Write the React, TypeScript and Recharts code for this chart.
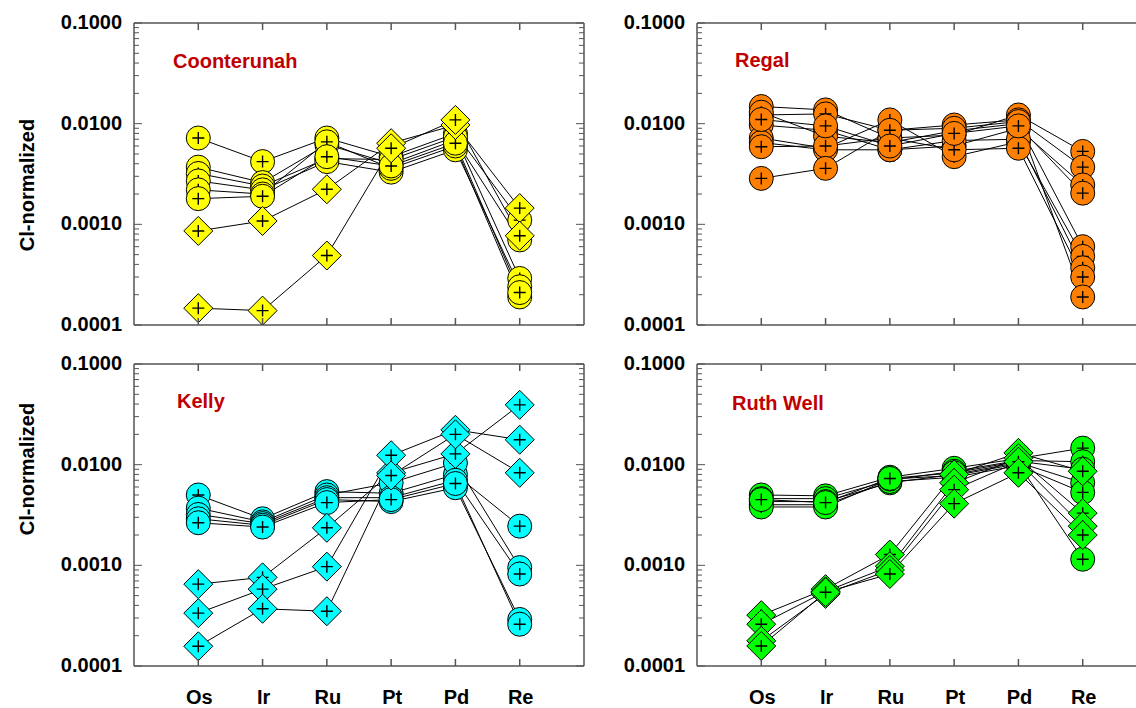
import React from "react";
import { LineChart, Line, XAxis, YAxis } from "recharts";

const categories = ["Os", "Ir", "Ru", "Pt", "Pd", "Re"];
const categoryPositions = [1, 2, 3, 4, 5, 6];
const majorTicks = [0.0001, 0.001, 0.01, 0.1];
const minorTicks = [
  0.0002, 0.0003, 0.0004, 0.0005, 0.0006, 0.0007, 0.0008, 0.0009,
  0.002, 0.003, 0.004, 0.005, 0.006, 0.007, 0.008, 0.009,
  0.02, 0.03, 0.04, 0.05, 0.06, 0.07, 0.08, 0.09,
];

// Coonterunah
const coonterunahCircles = [
  [0.0072, 0.0042, 0.0072, 0.0047, 0.008, 0.0011],
  [0.0037, 0.0026, 0.0062, 0.004, 0.0069, 0.0007],
  [0.0032, 0.0024, 0.0045, 0.0044, 0.0074, 0.00029],
  [0.0027, 0.0022, 0.0042, 0.0033, 0.0055, 0.00024],
  [0.0022, 0.002, 0.0066, 0.0036, 0.006, 0.00019],
  [0.0018, 0.0019, 0.0047, 0.0038, 0.0064, 0.00021],
];
const coonterunahDiamonds = [
  [0.00086, 0.00108, 0.00223, 0.0064, 0.0097, 0.00145],
  [0.000147, 0.000139, 0.00049, 0.0057, 0.0109, 0.00077],
];

// Regal
const regalCircles = [
  [0.0148, 0.0137, 0.0072, 0.0077, 0.0122, 0.0053],
  [0.0122, 0.0125, 0.0086, 0.0097, 0.0109, 0.0037],
  [0.0097, 0.0086, 0.0055, 0.006, 0.009, 0.00246],
  [0.013, 0.0075, 0.0065, 0.0085, 0.01, 0.0006],
  [0.0072, 0.0057, 0.0109, 0.0047, 0.0066, 0.00048],
  [0.0065, 0.0055, 0.0055, 0.0068, 0.007, 0.00037],
  [0.0059, 0.006, 0.0072, 0.0055, 0.0057, 0.0003],
  [0.00286, 0.0036, 0.0086, 0.009, 0.0105, 0.00019],
  [0.011, 0.0095, 0.006, 0.008, 0.0095, 0.00204],
];
const regalDiamonds: number[][] = [];

// Kelly
const kellyCircles = [
  [0.005, 0.0029, 0.0054, 0.0052, 0.008, 0.00245],
  [0.0037, 0.0027, 0.005, 0.0066, 0.0104, 0.00095],
  [0.0032, 0.0026, 0.0047, 0.0047, 0.007, 0.00082],
  [0.0029, 0.0025, 0.0045, 0.0043, 0.0059, 0.00029],
  [0.00265, 0.0024, 0.0042, 0.0045, 0.0065, 0.00026],
];
const kellyDiamonds = [
  [0.00065, 0.00076, 0.00236, 0.0083, 0.0128, 0.0393],
  [0.000335, 0.00058, 0.00097, 0.0124, 0.0222, 0.0177],
  [0.000157, 0.00037, 0.00035, 0.0078, 0.02, 0.0083],
];

// Ruth Well
const ruthCircles = [
  [0.005, 0.0049, 0.0075, 0.0092, 0.0115, 0.0146],
  [0.0046, 0.0046, 0.007, 0.0086, 0.011, 0.0107],
  [0.0043, 0.0043, 0.0066, 0.008, 0.0105, 0.0066],
  [0.004, 0.004, 0.0068, 0.0075, 0.0098, 0.0053],
  [0.0038, 0.0038, 0.0072, 0.0078, 0.0102, 0.00115],
  [0.0045, 0.0042, 0.0073, 0.0083, 0.0108, 0.009],
];
const ruthDiamonds = [
  [0.00032, 0.00058, 0.00128, 0.008, 0.0131, 0.0086],
  [0.00026, 0.00055, 0.00098, 0.0066, 0.0116, 0.0033],
  [0.000178, 0.00052, 0.0009, 0.00565, 0.0107, 0.00245],
  [0.000158, 0.00054, 0.00082, 0.0041, 0.0083, 0.002],
];

const frameColor = "#555";
const titleColor = "#c00000";
const font = "'Liberation Sans', Arial, Helvetica, sans-serif";
const labelStyle = { fontFamily: font, fontWeight: 700, fontSize: 20, fill: "#000" };
const allTicks = [...majorTicks, ...minorTicks].sort((a, b) => a - b);

const Plus = ({ cx, cy }: { cx: number; cy: number }) => (
  <path d={`M${cx - 6},${cy}H${cx + 6}M${cx},${cy - 6}V${cy + 6}`} stroke="#000" strokeWidth={1.4} />
);

const circleDot = (fill: string) => (p: any) => {
  if (p.cx == null || p.cy == null) return <g key={p.index} />;
  return (
    <g key={p.index}>
      <circle cx={p.cx} cy={p.cy} r={12} fill={fill} stroke="#000" strokeWidth={1} />
      <Plus cx={p.cx} cy={p.cy} />
    </g>
  );
};

const diamondDot = (fill: string) => (p: any) => {
  if (p.cx == null || p.cy == null) return <g key={p.index} />;
  const s = 14.5;
  return (
    <g key={p.index}>
      <path
        d={`M${p.cx},${p.cy - s}L${p.cx + s},${p.cy}L${p.cx},${p.cy + s}L${p.cx - s},${p.cy}Z`}
        fill={fill}
        stroke="#000"
        strokeWidth={1}
      />
      <Plus cx={p.cx} cy={p.cy} />
    </g>
  );
};

const isMajor = (v: number) => majorTicks.includes(v);

const LeftTick = (p: any) => {
  const v = p.payload.value;
  return (
    <g>
      <line x1={p.x} x2={p.x + (isMajor(v) ? 8 : 5)} y1={p.y} y2={p.y} stroke={frameColor} strokeWidth={1} />
      {isMajor(v) && (
        <text x={p.x - 12} y={p.y + 6} textAnchor="end" style={labelStyle}>
          {v.toFixed(4)}
        </text>
      )}
    </g>
  );
};

const RightTick = (p: any) => {
  const v = p.payload.value;
  return <line x1={p.x} x2={p.x - (isMajor(v) ? 8 : 5)} y1={p.y} y2={p.y} stroke={frameColor} strokeWidth={1} />;
};

const TopTick = (p: any) => <line x1={p.x} x2={p.x} y1={p.y} y2={p.y + 7} stroke={frameColor} strokeWidth={1.5} />;

const BottomTick = (p: any) => {
  const idx = categoryPositions.indexOf(p.payload.value);
  return (
    <g>
      <line x1={p.x} x2={p.x} y1={p.y} y2={p.y - 7} stroke={frameColor} strokeWidth={1.5} />
      {p.showLabel && (
        <text x={p.x + 1} y={p.y + 38} textAnchor="middle" style={labelStyle}>
          {categories[idx]}
        </text>
      )}
    </g>
  );
};

type PanelProps = {
  circles: number[][];
  diamonds: number[][];
  fill: string;
  left: number;
  top: number;
  height: number;
  plotTop: number;
  showLabels: boolean;
};

const CHART_W = 600;
const PLOT_H = 302;

const Panel = ({ circles, diamonds, fill, left, top, height, plotTop, showLabels }: PanelProps) => {
  const rows = categories.map((cat, i) => {
    const row: Record<string, number | string> = { x: categoryPositions[i], cat };
    circles.forEach((s, k) => (row[`c${k}`] = s[i]));
    diamonds.forEach((s, k) => (row[`d${k}`] = s[i]));
    return row;
  });
  const keys = [...circles.map((_, k) => `c${k}`), ...diamonds.map((_, k) => `d${k}`)];
  const axisLine = { stroke: frameColor, strokeWidth: 1.5 };
  return (
    <div style={{ position: "absolute", left, top, width: CHART_W, height }}>
      <LineChart
        width={CHART_W}
        height={height}
        data={rows}
        margin={{ top: plotTop - 1, left: 133, right: 15, bottom: height - plotTop - PLOT_H - 1 }}
      >
        <XAxis
          xAxisId="b"
          type="number"
          dataKey="x"
          domain={[0, 7]}
          ticks={categoryPositions}
          interval={0}
          height={1}
          tickSize={0}
          tickMargin={0}
          tickLine={false}
          axisLine={axisLine}
          tick={<BottomTick showLabel={showLabels} />}
          allowDataOverflow
        />
        <XAxis
          xAxisId="t"
          orientation="top"
          type="number"
          dataKey="x"
          domain={[0, 7]}
          ticks={categoryPositions}
          interval={0}
          height={1}
          tickSize={0}
          tickMargin={0}
          tickLine={false}
          axisLine={axisLine}
          tick={<TopTick />}
          allowDataOverflow
        />
        <YAxis
          yAxisId="l"
          type="number"
          scale="log"
          domain={[0.0001, 0.1]}
          ticks={allTicks}
          interval={0}
          width={1}
          tickSize={0}
          tickMargin={0}
          tickLine={false}
          axisLine={axisLine}
          tick={<LeftTick />}
          allowDataOverflow
        />
        <YAxis
          yAxisId="r"
          orientation="right"
          type="number"
          scale="log"
          domain={[0.0001, 0.1]}
          ticks={allTicks}
          interval={0}
          width={1}
          tickSize={0}
          tickMargin={0}
          tickLine={false}
          axisLine={axisLine}
          tick={<RightTick />}
          allowDataOverflow
        />
        {keys.map((k) => (
          <Line
            key={`line-${k}`}
            xAxisId="b"
            yAxisId="l"
            dataKey={k}
            stroke="#000"
            strokeWidth={1}
            dot={false}
            activeDot={false}
            isAnimationActive={false}
          />
        ))}
        {keys.map((k) => (
          <Line
            key={`mark-${k}`}
            xAxisId="b"
            yAxisId="l"
            dataKey={k}
            stroke="none"
            dot={k.startsWith("c") ? circleDot(fill) : diamondDot(fill)}
            activeDot={false}
            isAnimationActive={false}
          />
        ))}
      </LineChart>
    </div>
  );
};

const titleStyle = { fontFamily: font, fontWeight: 700, fontSize: 20, fill: titleColor };
const yTitleStyle = { fontFamily: font, fontWeight: 700, fontSize: 20, fill: "#000" };

export default function App() {
  return (
    <div style={{ position: "absolute", left: 0, top: 0, width: 1136, height: 708, overflow: "hidden", background: "#fff" }}>
      <Panel circles={coonterunahCircles} diamonds={coonterunahDiamonds} fill="#ffff00" left={0} top={0} height={345} plotTop={23} showLabels={false} />
      <Panel circles={regalCircles} diamonds={regalDiamonds} fill="#ff8000" left={563} top={0} height={345} plotTop={23} showLabels={false} />
      <Panel circles={kellyCircles} diamonds={kellyDiamonds} fill="#00ffff" left={0} top={341} height={367} plotTop={23} showLabels />
      <Panel circles={ruthCircles} diamonds={ruthDiamonds} fill="#00ff00" left={563} top={341} height={367} plotTop={23} showLabels />
      <svg width={1136} height={708} style={{ position: "absolute", left: 0, top: 0, pointerEvents: "none" }}>
        <text x={173} y={68} style={titleStyle}>Coonterunah</text>
        <text x={735} y={67} style={titleStyle}>Regal</text>
        <text x={177} y={408} style={titleStyle}>Kelly</text>
        <text x={732} y={410} style={titleStyle}>Ruth Well</text>
        <text x={27} y={185} transform="rotate(-90 27 185)" textAnchor="middle" dominantBaseline="central" style={yTitleStyle}>
          Cl-normalized
        </text>
        <text x={27} y={469} transform="rotate(-90 27 469)" textAnchor="middle" dominantBaseline="central" style={yTitleStyle}>
          Cl-normalized
        </text>
      </svg>
    </div>
  );
}
